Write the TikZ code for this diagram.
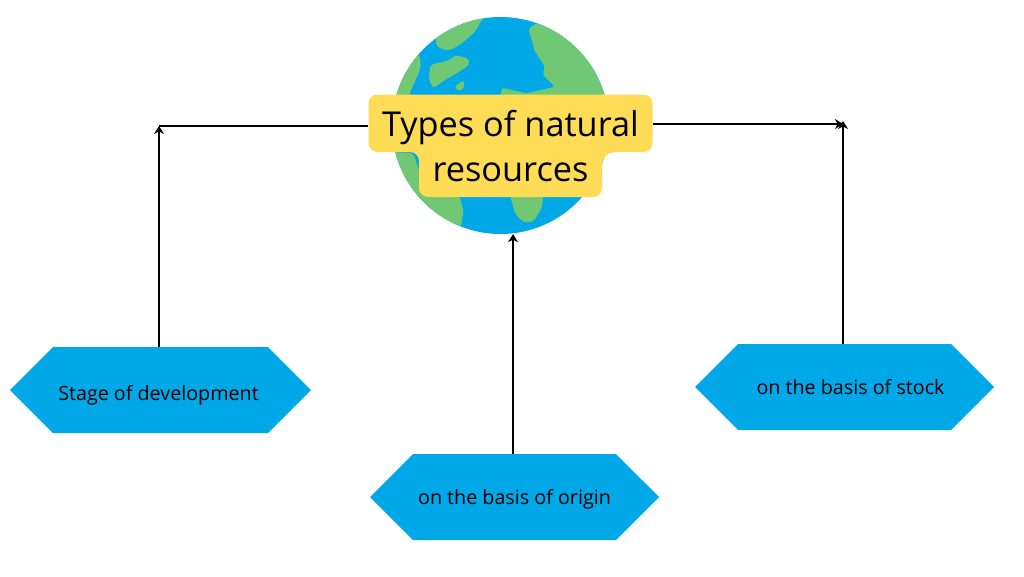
\documentclass[tikz,border=0pt]{standalone}
\usepackage{xcolor}
\usepackage{fontspec}
\setmainfont{Open Sans}
\usetikzlibrary{shapes.symbols, arrows.meta}
\definecolor{seablue}{HTML}{00A8E8}
\definecolor{landgreen}{HTML}{70C874}
\definecolor{labelyellow}{HTML}{FFDC55}
\tikzstyle{hexbox} = [signal, signal to=west and east, signal pointer angle=90, minimum width=301, minimum height=86, inner sep=0pt, text centered, fill=seablue, font=\fontsize{19.7}{23}\selectfont]
\tikzstyle{banner} = [rectangle, inner sep=0pt, text centered, font=\fontsize{34.3}{42}\selectfont]
\tikzstyle{arrow}  = [-{Stealth[length=8pt,width=10pt]},line width=1.8pt]
\tikzstyle{plain}  = [line width=1.8pt]
\begin{document}
\begin{tikzpicture}[x=1pt,y=-1pt]
    \useasboundingbox (0,0) rectangle (1024,576);
    % globe
    \node (globe) [circle, fill=seablue, minimum size=217, inner sep=0pt] at (500.5,125.5) {};
    \begin{scope}
      \clip (500.5,125.5) circle (108.5);
      \begin{scope}[shift={(360,5)}, x=0.3333pt, y=-0.3333pt, fill=landgreen, rounded corners=3]
        \fill (375,30) -- (345,80) -- (300,120) -- (265,137) -- (235,128) -- (225,110) -- (240,80) -- (200,40) -- cycle;
        \fill (210,180) -- (270,165) -- (285,150) -- (325,160) -- (328,180) -- (290,205) -- (255,225) -- (220,250) -- (207,225) -- cycle;
        \fill (283,245) -- (310,225) -- (315,240) -- (305,258) -- (290,255) -- cycle;
        \fill (505,70) -- (530,55) -- (600,40) -- (780,200) -- (780,290) -- (420,290) -- (425,248) -- (500,265) -- (585,245) -- (548,210) -- (555,185) -- (525,140) -- cycle;
        \fill (180,150) -- (182,190) -- (160,240) -- (148,268) -- (148,300) -- (80,300) -- (80,150) -- cycle;
        \fill (80,440) -- (160,445) -- (175,490) -- (200,560) -- (300,575) -- (310,620) -- (303,665) -- (200,700) -- (80,600) -- cycle;
        \fill (450,570) -- (550,570) -- (545,610) -- (520,650) -- (490,652) -- (465,625) -- cycle;
      \end{scope}
    \end{scope}
    % title
    \fill [labelyellow, rounded corners=9] (368.5,94.5) -- (652.5,94.5) -- (652.5,152) [rounded corners=13] -- (602,152) [rounded corners=9] -- (602,197) -- (419,197) -- (419,152) -- (368.5,152) -- cycle;
    \node (title)    [banner, minimum width=284] at (510.5,127.5) {Types of natural};
    \node (titlelow) [banner] at (510.5,172.5) {resources};
    % boxes
    \node (develop) [hexbox] at (160.5,390) {\raisebox{-10pt}[0pt][0pt]{\hspace*{-4pt}Stage of development}};
    \node (origin)  [hexbox, minimum width=289] at (514.5,497) {\raisebox{-7pt}[0pt][0pt]{on the basis of origin}};
    \node (stock)   [hexbox, minimum width=299] at (844.5,387) {\raisebox{-7pt}[0pt][0pt]{\hspace*{12pt}on the basis of stock}};
    \coordinate (leftend)  at (159,126);
    \coordinate (rightend) at (843,124);
    % arrows
    \draw [plain] (title.west |- leftend) -- (leftend);
    \draw [arrow] (develop.north -| leftend) -- (leftend);
    \draw [arrow] (title.east |- rightend) -- (rightend);
    \draw [arrow] ([xshift=-1.5pt]stock.north) -- ([yshift=3pt]rightend);
    \draw [arrow] ([xshift=-1.5pt]origin.north) -- ([xshift=12.5pt]globe.south);
  \end{tikzpicture}
\end{document}
